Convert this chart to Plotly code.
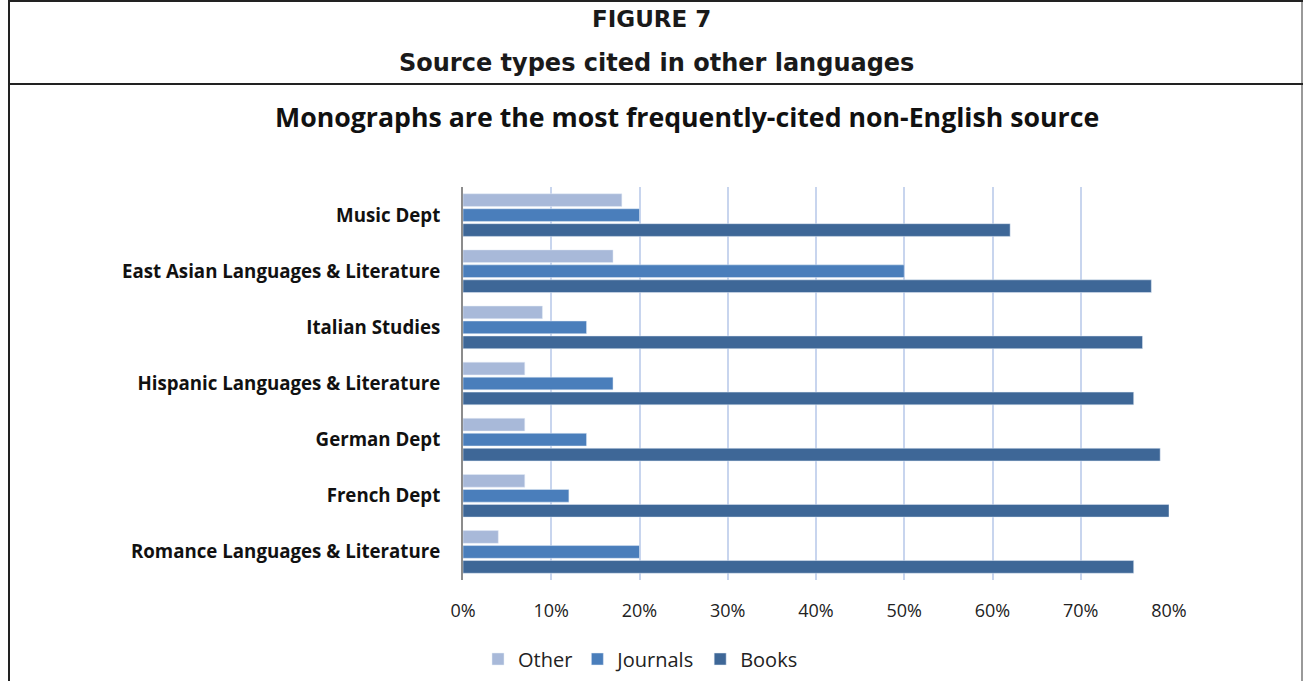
import plotly.graph_objects as go

categories = ["Music Dept", "East Asian Languages & Literature", "Italian Studies",
              "Hispanic Languages & Literature", "German Dept", "French Dept",
              "Romance Languages & Literature"]
other = [0.18, 0.17, 0.09, 0.07, 0.07, 0.07, 0.04]
journals = [0.20, 0.50, 0.14, 0.17, 0.14, 0.12, 0.20]
books = [0.62, 0.78, 0.77, 0.76, 0.79, 0.80, 0.76]
tick_vals = [0, 0.1, 0.2, 0.3, 0.4, 0.5, 0.6, 0.7, 0.8]
tick_text = ["0%", "10%", "20%", "30%", "40%", "50%", "60%", "70%", "80%"]

W, H = 1303, 681
L, R, T, B = 463, 134, 187, 101
pw, ph = W - L - R, H - T - B

def px(x):
    return (x - L) / pw

def py(y):
    return (H - B - y) / ph

fig = go.Figure()
fig.add_trace(go.Bar(y=categories, x=other, name="Other", orientation="h",
                     marker=dict(color="#a8b9d9")))
fig.add_trace(go.Bar(y=categories, x=journals, name="Journals", orientation="h",
                     marker=dict(color="#4a7ebb")))
fig.add_trace(go.Bar(y=categories, x=books, name="Books", orientation="h",
                     marker=dict(color="#3e6797")))

shapes = [
    dict(type="line", xref="paper", yref="paper", x0=px(9), x1=px(9), y0=py(0), y1=py(681),
         line=dict(color="#222222", width=2)),
    dict(type="line", xref="paper", yref="paper", x0=px(1302), x1=px(1302), y0=py(0), y1=py(681),
         line=dict(color="#999999", width=2)),
    dict(type="line", xref="paper", yref="paper", x0=px(9), x1=px(1303), y0=py(84), y1=py(84),
         line=dict(color="#222222", width=2)),
    dict(type="line", xref="paper", yref="paper", x0=px(9), x1=px(1303), y0=py(1), y1=py(1),
         line=dict(color="#222222", width=2)),
]

annotations = [
    dict(text="<b>FIGURE 7</b>", xref="paper", yref="paper", x=px(651), y=py(18.5),
         xanchor="center", yanchor="middle", showarrow=False,
         font=dict(family="DejaVu Sans", size=23, color="#1a1a1a")),
    dict(text="<b>Source types cited in other languages</b>", xref="paper", yref="paper",
         x=px(656), y=py(63), xanchor="center", yanchor="middle", showarrow=False,
         font=dict(family="DejaVu Sans", size=24, color="#1a1a1a")),
    dict(text="<b>Monographs are the most frequently-cited non-English source</b>",
         xref="paper", yref="paper", x=px(687), y=py(116), xanchor="center", yanchor="middle",
         showarrow=False, font=dict(family="Open Sans", size=26.7, color="#111111")),
]

fig.update_layout(
    width=W, height=H,
    margin=dict(l=L, r=R, t=T, b=B, autoexpand=False),
    paper_bgcolor="white", plot_bgcolor="white",
    barmode="group", bargap=0.2, bargroupgap=0.15,
    shapes=shapes, annotations=annotations,
    showlegend=True,
    legend=dict(orientation="h", xref="container", yref="container",
                x=640.5 / W, y=(H - 659) / H, xanchor="center", yanchor="middle",
                font=dict(family="Open Sans", size=20, color="#222222"),
                traceorder="normal", itemwidth=30),
    xaxis=dict(range=[0, 0.8], tickvals=tick_vals, ticktext=tick_text,
               showgrid=True, gridcolor="#c8d5ee", gridwidth=1.5, zeroline=False,
               showline=False, ticks="", ticklabelstandoff=18,
               tickfont=dict(family="Open Sans", size=18, color="#222222")),
    yaxis=dict(autorange="reversed", showline=True, linecolor="#8c8c8c", linewidth=2,
               showgrid=False, ticks="", ticklabelstandoff=17,
               tickprefix="<b>", ticksuffix="</b>",
               tickfont=dict(family="Open Sans", size=18.7, color="#111111")),
)
fig.write_html("out.html")
